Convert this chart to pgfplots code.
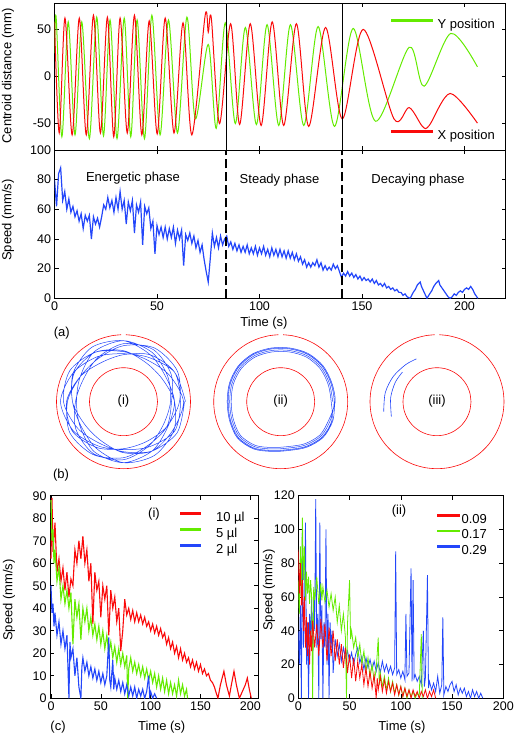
\documentclass[border=0pt]{standalone}
\usepackage{fontspec}
\setmainfont{Liberation Sans}
\usepackage{pgfplots}
\pgfplotsset{compat=1.18}
\definecolor{cr}{RGB}{250,10,10}
\definecolor{cg}{RGB}{100,235,0}
\definecolor{cb}{RGB}{35,70,250}
\newcommand{\fl}{\fontsize{13}{15}\selectfont}
\newcommand{\ft}{\fontsize{12.5}{14}\selectfont}
\pgfplotsset{
 myax/.style={scale only axis, axis line style={line width=0.7pt}, tick style={line width=0.6pt, black}, major tick length=4pt, tick align=inside, tick label style={font=\ft}, /pgf/number format/assume math mode=true},
 circ/.style={scale only axis, anchor=center, width=140pt, height=140pt, xmin=-70, xmax=70, ymin=-70, ymax=70, hide axis, clip=false},
 myleg/.style={legend cell align=left, legend style={draw=none, fill=none, inner sep=0pt, outer sep=0pt, anchor=north west, nodes={inner sep=0pt, text height=9.5pt, text depth=2.5pt, font=\fl}}},
}
\begin{document}
\begin{tikzpicture}[x=1pt,y=1pt]
\useasboundingbox (0,0) rectangle (521,737);
% ---------------- top panel: centroid distance
\begin{axis}[myax, myleg, at={(54.5pt,734pt)}, anchor=north west, width=451pt, height=147pt,
  xmin=0, xmax=220, ymin=-78, ymax=78, xtick={0,50,100,150,200}, xticklabels={},
  ytick={-50,0,50}, yticklabels={-50,0,50},
  legend style={at={(0.7455,0.889)}, row sep=99pt, column sep=5pt},
  legend image code/.code={\fill[#1] (0pt,3.6pt) rectangle (41pt,5.4pt);}]
\addplot[cg, line width=1pt, smooth] coordinates {(0,25) (0.8,63) (3.6,-64) (6.7,58) (10,-62) (13.3,58) (17,-66) (20.6,63) (23.9,-63) (27.1,60) (30.5,-66) (34,62) (37.2,-64) (40.3,60) (43.9,-66) (47.5,65) (51.5,-62) (55.6,60) (60,-60) (64.6,63) (68.7,-45) (75,34) (78.9,-55) (83.3,57) (88.2,-50) (93.1,52) (98.5,-51) (103.7,55) (109.4,-52) (115.1,55) (121.6,-52) (128.6,53) (136.6,-53) (145.7,51) (156.6,-47.5) (173,31) (180.3,-10.3) (193.3,45.7) (206.3,10.2)};
\addlegendentry{Y position}
\addplot[cr, line width=1pt, smooth] coordinates {(0,58) (2.3,-60) (5.1,62) (8.6,-62) (12.1,62) (15.5,-62) (19,65) (22.4,-60) (25.8,63) (28.9,-64) (32,62) (35.5,-60) (39,65) (42.6,-62) (46.2,59) (50.1,-61) (54,62) (58.3,-60) (62.7,57) (67,-62) (73.5,65) (75,47) (76.5,62) (80.5,-50) (85.9,56) (90.3,-51) (95.5,56) (100.8,-52) (106.2,58) (111.8,-52) (118,56) (124,-53) (132.2,52) (140.4,-45) (150.6,50) (165.6,-45) (173,-33) (179.5,-53) (182.8,-52) (193,-18) (206.3,-49.5)};
\addlegendentry{X position}
\addplot[black, line width=0.7pt, forget plot] coordinates {(83.7,-78) (83.7,78)};
\addplot[black, line width=0.7pt, forget plot] coordinates {(140.2,-78) (140.2,78)};
\end{axis}
\node[rotate=90, font=\fl] at (8,661) {Centroid distance (mm)};
% ---------------- speed panel
\begin{axis}[myax, at={(54.5pt,587pt)}, anchor=north west, width=451pt, height=148.3pt,
  xmin=0, xmax=220, ymin=0, ymax=100, xtick={0,50,100,150,200}, ytick={0,20,40,60,80,100}]
\addplot[cb, line width=1.2pt] coordinates {(0,80) (1,62) (2,84) (3,88) (4,66) (5,72) (6,60) (7,67) (8,58) (9,62) (10,55) (11,59) (12,52) (13,57) (14,47) (15,56) (16,52) (17,56) (18,40) (19,55) (20,50) (21,54) (22,48) (23,55) (24,63) (25,60) (26,68) (27,61) (28,66) (29,58) (30,68) (31,60) (32,72) (33,60) (34,66) (35,50) (36,65) (37,59) (38,66) (39,44) (40,63) (41,58) (42,65) (43,36) (44,62) (45,57) (46,61) (47,47) (48,52) (49,30) (50,49) (51,43) (52,48) (53,41) (54,48) (55,40) (56,47) (57,41) (58,48) (59,37) (60,46) (61,40) (62,46) (63,22) (64,43) (65,39) (66,44) (67,37) (68,42) (69,34) (70,39) (71,31) (72,36) (73,26) (74,18) (75,11) (76,27) (77,44) (78,35) (79,41) (80,34) (81,42) (82,36) (83,40) (84,42) (85,35) (86,38) (87,33) (88,37) (89,32) (90,36) (91,31) (92,35) (93,31) (94,36) (95,30) (96,34) (97,30) (98,35) (99,29) (100,34) (101,30) (102,35) (103,29) (104,33) (105,28) (106,34) (107,29) (108,33) (109,28) (110,33) (111,28) (112,32) (113,27) (114,32) (115,27) (116,31) (117,26) (118,30) (119,25) (120,28) (121,23) (122,26) (123,21) (124,24) (125,21) (126,24) (127,22) (128,26) (129,21) (130,24) (131,19) (132,22) (133,19) (134,21) (135,19) (136,23) (137,20) (138,22) (139,18) (140,14) (141,17) (142,15) (143,18) (144,15) (145,17) (146,14) (147,16) (148,13) (149,15) (150,12) (151,14) (152,12) (153,13) (154,11) (155,13) (156,10) (157,12) (158,9) (159,10) (160,8) (161,10) (162,7) (163,8) (164,6) (165,7) (166,5) (167,6) (168,4) (169,4) (170,2) (171,3) (172,1) (173.5,0) (175,4) (176,6) (177,9) (178.4,11) (179,8) (180,5) (181,2) (181.7,0) (183,3) (184,5) (185,8) (186,10) (187.4,12) (188,9) (189,7) (190,5) (191,3) (192,1) (193,0) (194,1) (195,3) (196,2) (197,4) (198,5) (199,4) (200,6) (201,7) (202,6) (203,8) (204,6) (205,3) (206.5,0)};
\addplot[black, line width=1.3pt, dash pattern=on 9pt off 4pt] coordinates {(83.7,0) (83.7,100)};
\addplot[black, line width=1.3pt, dash pattern=on 9pt off 4pt] coordinates {(140.2,0) (140.2,100)};
\end{axis}
\node[rotate=90, font=\fl] at (8,517) {Speed (mm/s)};
\node[font=\fl] at (133,559) {Energetic phase};
\node[font=\fl] at (279.5,557) {Steady phase};
\node[font=\fl] at (418,557) {Decaying phase};
\node[font=\fl] at (264,414) {Time (s)};
\node[font=\fl] at (61.7,404) {(a)};
% ---------------- (b) circles
\begin{axis}[circ, at={(123.5pt,335.3pt)}]
\addplot[cr, line width=0.6pt, smooth, data cs=polar] coordinates {(92,67) (100,67) (110,67) (120,67) (130,67) (140,67) (150,67) (160,67) (170,67) (180,67) (190,67) (200,67) (210,67) (220,67) (230,67) (240,67) (250,67) (260,67) (270,67) (280,67) (290,67) (300,67) (310,67) (320,67) (330,67) (340,67) (350,67) (360,67) (370,67) (380,67) (390,67) (400,67) (410,67) (420,67) (430,67) (440,67) (448,67)};
\addplot[cr, line width=0.6pt, smooth, data cs=polar] coordinates {(0,34) (15,34) (30,34) (45,34) (60,34) (75,34) (90,34) (105,34) (120,34) (135,34) (150,34) (165,34) (180,34) (195,34) (210,34) (225,34) (240,34) (255,34) (270,34) (285,34) (300,34) (315,34) (330,34) (345,34) (360,34)};
\addplot[cb, line width=0.5pt, smooth, data cs=polar] coordinates {
(0,62) (30,59) (60,51) (90,48) (120,52) (150,58) (180,63) (210,58) (240,51) (270,48) (300,52) (330,59)
(360,57) (390,59) (420,54) (450,47) (480,45) (510,50) (540,57) (570,59) (600,53) (630,47) (660,46) (690,50)
(720,56) (750,62) (780,62) (810,56) (840,50) (870,50) (900,56) (930,62) (960,61) (990,56) (1020,50) (1050,50)
(1080,48) (1110,55) (1140,60) (1170,58) (1200,51) (1230,46) (1260,48) (1290,55) (1320,60) (1350,58) (1380,51) (1410,46)
(1440,47) (1470,51) (1500,57) (1530,61) (1560,58) (1590,50) (1620,47) (1650,50) (1680,58) (1710,61) (1740,57) (1770,51)
(1800,51) (1830,49) (1860,54) (1890,61) (1920,63) (1950,58) (1980,51) (2010,49) (2040,54) (2070,61) (2100,62) (2130,58)
(2160,51) (2190,45) (2220,45) (2250,51) (2280,57) (2310,57) (2340,51) (2370,45) (2400,45) (2430,51) (2460,57) (2490,57)
(2520,60) (2550,53) (2580,48) (2610,50) (2640,57) (2670,62) (2700,60) (2730,53) (2760,48) (2790,50) (2820,57) (2850,62) (2880,61)};
\end{axis}
\begin{axis}[circ, at={(280.7pt,335.3pt)}]
\addplot[cr, line width=0.6pt, smooth, data cs=polar] coordinates {(92,67) (100,67) (110,67) (120,67) (130,67) (140,67) (150,67) (160,67) (170,67) (180,67) (190,67) (200,67) (210,67) (220,67) (230,67) (240,67) (250,67) (260,67) (270,67) (280,67) (290,67) (300,67) (310,67) (320,67) (330,67) (340,67) (350,67) (360,67) (370,67) (380,67) (390,67) (400,67) (410,67) (420,67) (430,67) (440,67) (448,67)};
\addplot[cr, line width=0.6pt, smooth, data cs=polar] coordinates {(0,34) (15,34) (30,34) (45,34) (60,34) (75,34) (90,34) (105,34) (120,34) (135,34) (150,34) (165,34) (180,34) (195,34) (210,34) (225,34) (240,34) (255,34) (270,34) (285,34) (300,34) (315,34) (330,34) (345,34) (360,34)};
\addplot[cb, line width=0.5pt, smooth, data cs=polar] coordinates {
(0,52) (20,52) (40,53) (60,53) (80,52) (100,52) (120,53) (140,53) (160,52) (180,51) (200,52) (220,54) (240,52) (260,48) (280,47) (300,50) (320,53) (340,53)
(360,53.5) (380,53.5) (400,54.5) (420,54.5) (440,53.5) (460,53.5) (480,54.5) (500,54.5) (520,53.5) (540,52.5) (560,53.5) (580,55.5) (600,53.5) (620,49.5) (640,48.5) (660,51.5) (680,54.5) (700,54.5)
(720,50.5) (740,50.5) (760,51.5) (780,51.5) (800,50.5) (820,50.5) (840,51.5) (860,51.5) (880,50.5) (900,49.5) (920,50.5) (940,52.5) (960,50.5) (980,46.5) (1000,45.5) (1020,48.5) (1040,51.5) (1060,51.5)
(1080,54.5) (1100,54.5) (1120,55.5) (1140,55.5) (1160,54.5) (1180,54.5) (1200,55.5) (1220,55.5) (1240,54.5) (1260,53.5) (1280,54.5) (1300,56.5) (1320,54.5) (1340,50.5) (1360,49.5) (1380,52.5) (1400,55.5) (1420,55.5) (1440,54)};
\end{axis}
\begin{axis}[circ, at={(437pt,335.3pt)}]
\addplot[cr, line width=0.6pt, smooth, data cs=polar] coordinates {(92,67) (100,67) (110,67) (120,67) (130,67) (140,67) (150,67) (160,67) (170,67) (180,67) (190,67) (200,67) (210,67) (220,67) (230,67) (240,67) (250,67) (260,67) (270,67) (280,67) (290,67) (300,67) (310,67) (320,67) (330,67) (340,67) (350,67) (360,67) (370,67) (380,67) (390,67) (400,67) (410,67) (420,67) (430,67) (440,67) (448,67)};
\addplot[cr, line width=0.6pt, smooth, data cs=polar] coordinates {(0,34) (15,34) (30,34) (45,34) (60,34) (75,34) (90,34) (105,34) (120,34) (135,34) (150,34) (165,34) (180,34) (195,34) (210,34) (225,34) (240,34) (255,34) (270,34) (285,34) (300,34) (315,34) (330,34) (345,34) (360,34)};
\addplot[cb, line width=0.6pt, smooth, data cs=polar] coordinates {(115.7,47.5) (130,48.5) (150,50.5) (170,52.5) (190.5,54.2)};
\addplot[cb, line width=0.6pt, smooth, data cs=polar] coordinates {(139.5,45.5) (155,46) (175,46.5) (198,48)};
\end{axis}
\node[font=\fl] at (123.5,335.5) {(i)};
\node[font=\fl] at (280.7,335.5) {(ii)};
\node[font=\fl] at (437,335.5) {(iii)};
\node[font=\fl] at (61,262) {(b)};
% ---------------- (c)(i)
\begin{axis}[myax, myleg, at={(50pt,241.3pt)}, anchor=north west, width=208.3pt, height=202.6pt,
  xmin=-1, xmax=208, ymin=0, ymax=90, xtick={0,50,100,150,200}, ytick={0,10,20,30,40,50,60,70,80,90},
  legend style={at={(0.624,0.918)}, row sep=3.7pt, column sep=15pt},
  legend image code/.code={\fill[#1] (0pt,3.6pt) rectangle (20pt,5.4pt);}]
\addplot[cr, line width=1.1pt] coordinates {(0,62) (1,89) (2,65) (4,78) (6,56) (8,62) (10,52) (12,58) (14,48) (16,56) (18,45) (20,53) (22,50) (24,66) (26,60) (28,70) (30,62) (32,72) (34,60) (36,66) (38,52) (40,60) (42,33) (44,56) (46,48) (48,52) (50,36) (52,50) (54,44) (56,50) (58,28) (60,48) (62,40) (64,45) (66,34) (68,40) (70,21) (72,30) (74,44) (76,37) (78,40) (80,35) (82,39) (84,34) (86,38) (88,34) (90,37) (92,33) (94,36) (96,32) (98,34) (100,30) (102,33) (104,29) (106,32) (108,28) (110,31) (112,27) (114,29) (116,24) (118,27) (120,22) (122,25) (124,20) (126,23) (128,18) (130,22) (132,17) (134,20) (136,16) (138,18) (140,14) (142,17) (144,13) (146,16) (148,12) (150,15) (152,11) (154,13) (156,10) (158,11) (160,8) (162,7) (164,5) (166,2) (167.5,0) (170,6) (173.5,12) (176,6) (179,1) (181,6) (183.6,12) (186,6) (189,0) (192,3) (195,6) (197,9) (199,4) (201,0)};
\addlegendentry{10 µl}
\addplot[cg, line width=1.1pt] coordinates {(0,88) (1,70) (2,75) (3,60) (4,66) (6,52) (8,58) (10,44) (12,50) (14,42) (16,48) (18,40) (20,47) (22,24) (24,44) (26,36) (28,42) (30,26) (32,40) (34,34) (36,40) (38,30) (40,36) (42,28) (44,33) (46,26) (48,32) (50,24) (52,30) (54,22) (56,28) (58,20) (60,25) (62,18) (64,23) (66,16) (68,22) (70,15) (72,20) (74,14) (76,19) (77,0) (78,13) (80,18) (82,12) (84,16) (86,11) (88,15) (90,10) (92,14) (94,9) (96,13) (98,8) (100,12) (102,7) (104,11) (106,5) (108,10) (110,4) (112,9) (114,3) (116,8) (118,2) (120,7) (122,2) (124,6) (126,1) (128,8) (130,2) (132,6) (134,1) (136,4) (137,0)};
\addlegendentry{5 µl}
\addplot[cb, line width=1.1pt] coordinates {(0,50) (1,38) (2,42) (3,32) (4,38) (6,28) (8,34) (10,24) (12,30) (14,22) (16,28) (18,0) (19,25) (20,18) (22,22) (24,10) (26,18) (28,5) (30,0) (31,14) (32,18) (34,12) (36,16) (38,10) (40,14) (42,9) (44,13) (46,8) (48,12) (50,7) (52,11) (54,6) (56,10) (58,27) (59,8) (60,5) (62,17) (63,4) (64,9) (66,4) (68,8) (70,3) (72,7) (74,2) (76,6) (78,1) (80,5) (82,1) (84,5) (86,0) (88,4) (90,1) (92,4) (94,0) (96,3) (98,10) (99,1) (100,3) (102,0) (104,2) (106,0)};
\addlegendentry{2 µl}
\end{axis}
\node[rotate=90, font=\fl] at (9,137) {Speed (mm/s)};
\node[font=\fl] at (161.7,10) {Time (s)};
\node[font=\fl] at (58,10.3) {(c)};
\node[font=\fl] at (154,223) {(i)};
% ---------------- (c)(ii)
\begin{axis}[myax, myleg, at={(298.3pt,241.3pt)}, anchor=north west, width=205pt, height=202.6pt,
  xmin=0, xmax=200, ymin=0, ymax=120, xtick={0,50,100,150,200}, ytick={0,20,40,60,80,100,120},
  reverse legend, legend style={at={(0.675,0.912)}, row sep=3.8pt, column sep=1.5pt},
  legend image code/.code={\fill[#1] (0pt,3.6pt) rectangle (22.6pt,5.4pt);}]
\addplot[cb, line width=0.8pt] coordinates {(0,40) (1,20) (2,55) (3,0) (4,98) (5,30) (6,50) (7,104) (8,20) (9,45) (10,0) (11,50) (12,35) (13,60) (14,20) (15,62) (16,40) (17,118) (18,30) (19,50) (20,0) (21,104) (22,35) (23,55) (24,0) (25,45) (26,30) (27,100) (28,20) (29,50) (30,0) (31,45) (32,30) (33,40) (34,15) (36,35) (38,25) (40,32) (42,22) (44,30) (46,24) (48,28) (50,22) (52,27) (54,20) (56,26) (58,30) (60,21) (62,25) (64,17) (66,24) (68,18) (70,23) (72,17) (74,22) (76,16) (78,21) (80,15) (82,22) (84,16) (86,20) (88,15) (90,19) (92,14) (94,18) (95,87) (96,14) (98,17) (100,12) (102,16) (104,11) (105,50) (106,13) (108,15) (110,77) (111,10) (112,70) (113,12) (114,14) (116,10) (118,13) (120,8) (122,40) (123,7) (124,12) (126,73) (127,6) (128,10) (130,5) (132,9) (134,4) (136,13) (138,3) (140,8) (141,48) (142,2) (144,7) (146,4) (148,8) (150,10) (152,4) (154,8) (156,2) (158,6) (160,3) (162,6) (164,1) (166,4) (168,0) (170,5) (172,1) (174,4) (176,0) (178,3) (180,0)};
\addlegendentry{0.29}
\addplot[cg, line width=0.8pt] coordinates {(0,70) (1,50) (2,90) (3,60) (4,107) (5,70) (6,90) (7,58) (8,75) (9,62) (10,72) (11,56) (12,70) (13,60) (14,0) (15,66) (16,58) (18,72) (20,56) (22,68) (23,58) (24,66) (26,57) (28,64) (30,54) (32,62) (34,52) (36,60) (38,45) (40,55) (42,40) (44,50) (46,36) (47,0) (48,44) (50,70) (51,35) (52,40) (54,30) (56,36) (58,24) (60,32) (62,20) (64,28) (66,16) (68,24) (70,12) (72,20) (74,10) (76,17) (78,36) (79,8) (80,15) (82,7) (84,13) (86,5) (88,12) (90,4) (92,10) (94,3) (96,8) (98,2) (100,7) (102,1) (104,6) (106,0) (108,5) (110,1) (112,4) (114,0) (116,3) (118,1) (120,38) (121,0)};
\addlegendentry{0.17}
\addplot[cr, line width=0.8pt] coordinates {(0,88) (1,62) (2,80) (3,55) (4,70) (5,40) (6,60) (7,30) (8,48) (9,25) (10,45) (11,20) (12,40) (13,28) (14,46) (16,30) (18,44) (20,25) (22,47) (24,30) (26,44) (28,22) (30,42) (32,25) (34,40) (36,22) (38,35) (40,20) (42,32) (44,18) (46,30) (48,15) (50,26) (52,12) (54,24) (56,10) (58,22) (60,12) (62,20) (64,8) (66,18) (68,7) (70,16) (72,6) (74,14) (76,0) (77,12) (78,5) (80,13) (82,4) (84,11) (86,3) (88,10) (90,4) (92,9) (94,2) (96,8) (98,2) (100,7) (102,1) (104,6) (106,1) (108,5) (110,0) (112,5) (114,1) (116,4) (118,0) (120,4) (122,1) (124,5) (126,0) (128,4) (130,1) (132,5) (134,0)};
\addlegendentry{0.09}
\end{axis}
\node[rotate=90, font=\fl] at (269,147) {Speed (mm/s)};
\node[font=\fl] at (402,10) {Time (s)};
\node[font=\fl] at (399,226) {(ii)};
\end{tikzpicture}
\end{document}
